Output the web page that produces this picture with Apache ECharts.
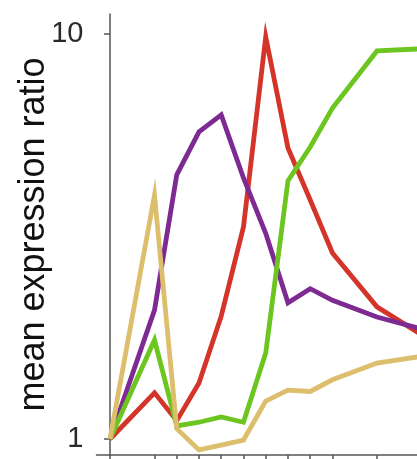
<!DOCTYPE html>
<html>
<head>
<meta charset="utf-8">
<script src="https://cdn.jsdelivr.net/npm/echarts@6/dist/echarts.min.js"></script>
<style>
html,body{margin:0;padding:0;background:#fff;}
#chart{width:417px;height:459px;}
</style>
</head>
<body>
<div id="chart"></div>
<script>
// time points (x values)
var xValues = [0, 2, 3, 4, 5, 6, 7, 8, 9, 10, 12, 14];
// mean expression ratio per series
var redValues    = [1.0, 1.30, 1.11, 1.375, 2.01, 3.34, 9.84, 5.23, 3.89, 2.88, 2.12, 1.81];
var purpleValues = [1.0, 2.08, 4.49, 5.73, 6.31, 4.41, 3.22, 2.17, 2.35, 2.20, 2.00, 1.87];
var greenValues  = [1.0, 1.755, 1.077, 1.10, 1.133, 1.10, 1.63, 4.34, 5.26, 6.56, 9.08, 9.19];
var tanValues    = [1.0, 4.00, 1.06, 0.94, 0.966, 0.994, 1.24, 1.32, 1.31, 1.40, 1.54, 1.60];
var yTickValues = [1, 10];
var xTickValues = [0, 2, 3, 4, 5, 6, 7, 8, 9, 10, 12];

function pairs(vals){ return xValues.map(function(x,i){ return [x, vals[i]]; }); }

var chart = echarts.init(document.getElementById('chart'));
var font = 'Liberation Sans, Arial, Helvetica, sans-serif';
function line(name, vals, color){
  return {
    name: name, type: 'line', data: pairs(vals), symbol: 'none',
    lineStyle: {color: color, width: 4.8, join: 'miter'}, clip: true, animation: false
  };
}
chart.setOption({
  animation: false,
  grid: {left: 96.5, right: 0, top: 14, bottom: 4, containLabel: false, outerBoundsMode: 'none'},
  xAxis: {
    type: 'value', min: -0.607, max: 13.8,
    axisLine: {show: true, lineStyle: {color: '#555', width: 1.5}},
    axisTick: {show: true, length: 5, customValues: xTickValues, lineStyle: {color: '#555', width: 1.5}},
    axisLabel: {show: false},
    splitLine: {show: false}
  },
  yAxis: {
    type: 'log', logBase: 10, min: 0.913, max: 11.2,
    name: 'mean expression ratio', nameLocation: 'middle', nameGap: 44, nameMoveOverlap: false,
    nameTextStyle: {fontSize: 36, color: '#111', fontFamily: font},
    axisLine: {show: true, lineStyle: {color: '#555', width: 1.5}},
    axisTick: {show: true, length: 6, customValues: yTickValues, lineStyle: {color: '#555', width: 1.5}},
    axisLabel: {show: true, customValues: yTickValues, fontSize: 29, color: '#2a2a2a', margin: 13, fontFamily: font},
    splitLine: {show: false}
  },
  series: [
    line('red', redValues, '#d4342a'),
    line('purple', purpleValues, '#7d2b92'),
    line('green', greenValues, '#6cc61f'),
    line('tan', tanValues, '#dcbe6c')
  ]
});
</script>
</body>
</html>
